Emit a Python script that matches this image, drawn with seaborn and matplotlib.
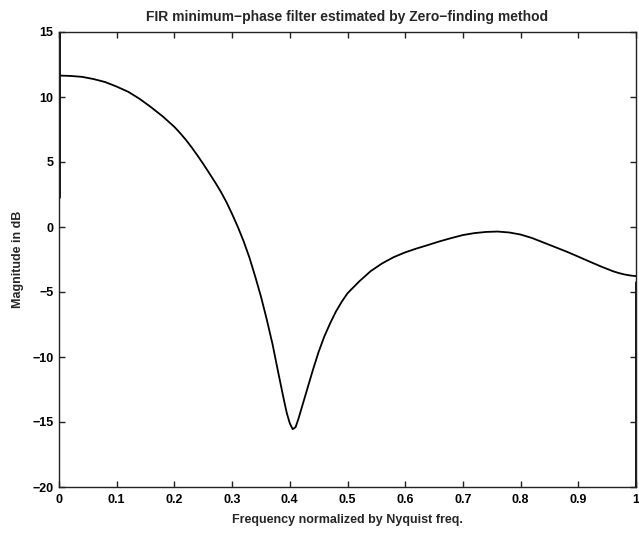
import matplotlib
matplotlib.use("Agg")
import matplotlib.pyplot as plt
import seaborn as sns
import pandas as pd

# Normalized frequency (Nyquist = 1) and magnitude response in dB
freq = [0.00, 0.02, 0.04, 0.06, 0.08, 0.10, 0.12, 0.14, 0.16, 0.18,
        0.20, 0.21, 0.22, 0.23, 0.24, 0.25, 0.26, 0.27, 0.28, 0.29,
        0.30, 0.31, 0.32, 0.33, 0.34, 0.35, 0.36, 0.37, 0.38, 0.39,
        0.395, 0.40, 0.405, 0.41, 0.415, 0.42, 0.43, 0.44, 0.45, 0.46,
        0.47, 0.48, 0.49, 0.50, 0.52, 0.54, 0.56, 0.58, 0.60, 0.62,
        0.64, 0.66, 0.68, 0.70, 0.72, 0.74, 0.76, 0.78, 0.80, 0.82,
        0.84, 0.86, 0.88, 0.90, 0.92, 0.94, 0.96, 0.97, 0.98, 0.99, 1.00]
mag_db = [11.65, 11.62, 11.55, 11.38, 11.15, 10.8, 10.4, 9.85, 9.2, 8.5,
          7.7, 7.22, 6.7, 6.12, 5.5, 4.85, 4.17, 3.48, 2.75, 1.93,
          1.0, 0.0, -1.1, -2.35, -3.8, -5.35, -7.1, -9.0, -11.2, -13.35,
          -14.35, -15.1, -15.55, -15.4, -14.75, -14.0, -12.5, -11.0, -9.6, -8.4,
          -7.4, -6.5, -5.75, -5.1, -4.2, -3.4, -2.8, -2.32, -1.95, -1.65,
          -1.38, -1.1, -0.85, -0.62, -0.47, -0.38, -0.35, -0.42, -0.58, -0.85,
          -1.2, -1.55, -1.9, -2.28, -2.67, -3.05, -3.4, -3.54, -3.65, -3.73, -3.78]

# Vertical traces along the band edges
left_edge_x = [0.0, 0.0]
left_edge_db = [15.0, 2.3]
right_edge_x = [1.0, 1.0]
right_edge_db = [-4.2, -20.0]

x_ticks = [0, 0.1, 0.2, 0.3, 0.4, 0.5, 0.6, 0.7, 0.8, 0.9, 1]
x_tick_labels = ["0", "0.1", "0.2", "0.3", "0.4", "0.5", "0.6", "0.7", "0.8", "0.9", "1"]
y_ticks = [-20, -15, -10, -5, 0, 5, 10, 15]
y_tick_labels = ["\u221220", "\u221215", "\u221210", "\u22125", "0", "5", "10", "15"]

sns.set_style("white")
plt.rcParams["font.family"] = ["Liberation Sans", "DejaVu Sans"]

fig = plt.figure(figsize=(6.39, 5.35), dpi=100)
ax = fig.add_axes([59 / 639, 1 - 487 / 535, (636 - 59) / 639, (487 - 32) / 535])

df = pd.DataFrame({"freq": freq, "mag": mag_db})
sns.lineplot(data=df, x="freq", y="mag", ax=ax, color="black", linewidth=1.3,
             sort=False, estimator=None)
sns.lineplot(x=left_edge_x, y=left_edge_db, ax=ax, color="black", linewidth=2.0,
             estimator=None, sort=False)
sns.lineplot(x=right_edge_x, y=right_edge_db, ax=ax, color="black", linewidth=2.0,
             estimator=None, sort=False)

ax.set_xlim(0, 1)
ax.set_ylim(-20, 15)
ax.set_xticks(x_ticks)
ax.set_xticklabels(x_tick_labels)
ax.set_yticks(y_ticks)
ax.set_yticklabels(y_tick_labels)

for side in ["left", "right", "top", "bottom"]:
    ax.spines[side].set_visible(True)
    ax.spines[side].set_color("#222222")
    ax.spines[side].set_linewidth(1.0)

ax.tick_params(axis="both", which="both", direction="in", length=4, width=1,
               colors="#222222", labelcolor="black", labelsize=9,
               top=True, right=True, bottom=True, left=True)
ax.tick_params(axis="x", pad=5)
ax.tick_params(axis="y", pad=4)
for lbl in ax.get_xticklabels() + ax.get_yticklabels():
    lbl.set_fontweight("bold")

ax.set_title("FIR minimum\u2212phase filter estimated by Zero\u2212finding method",
             fontsize=10, fontweight="bold", pad=8)
ax.set_xlabel("Frequency normalized by Nyquist freq.", fontsize=9, fontweight="bold",
              labelpad=6)
ax.set_ylabel("Magnitude in dB", fontsize=9, fontweight="bold", labelpad=6)

fig.savefig("out.png", dpi=100, facecolor="white")
